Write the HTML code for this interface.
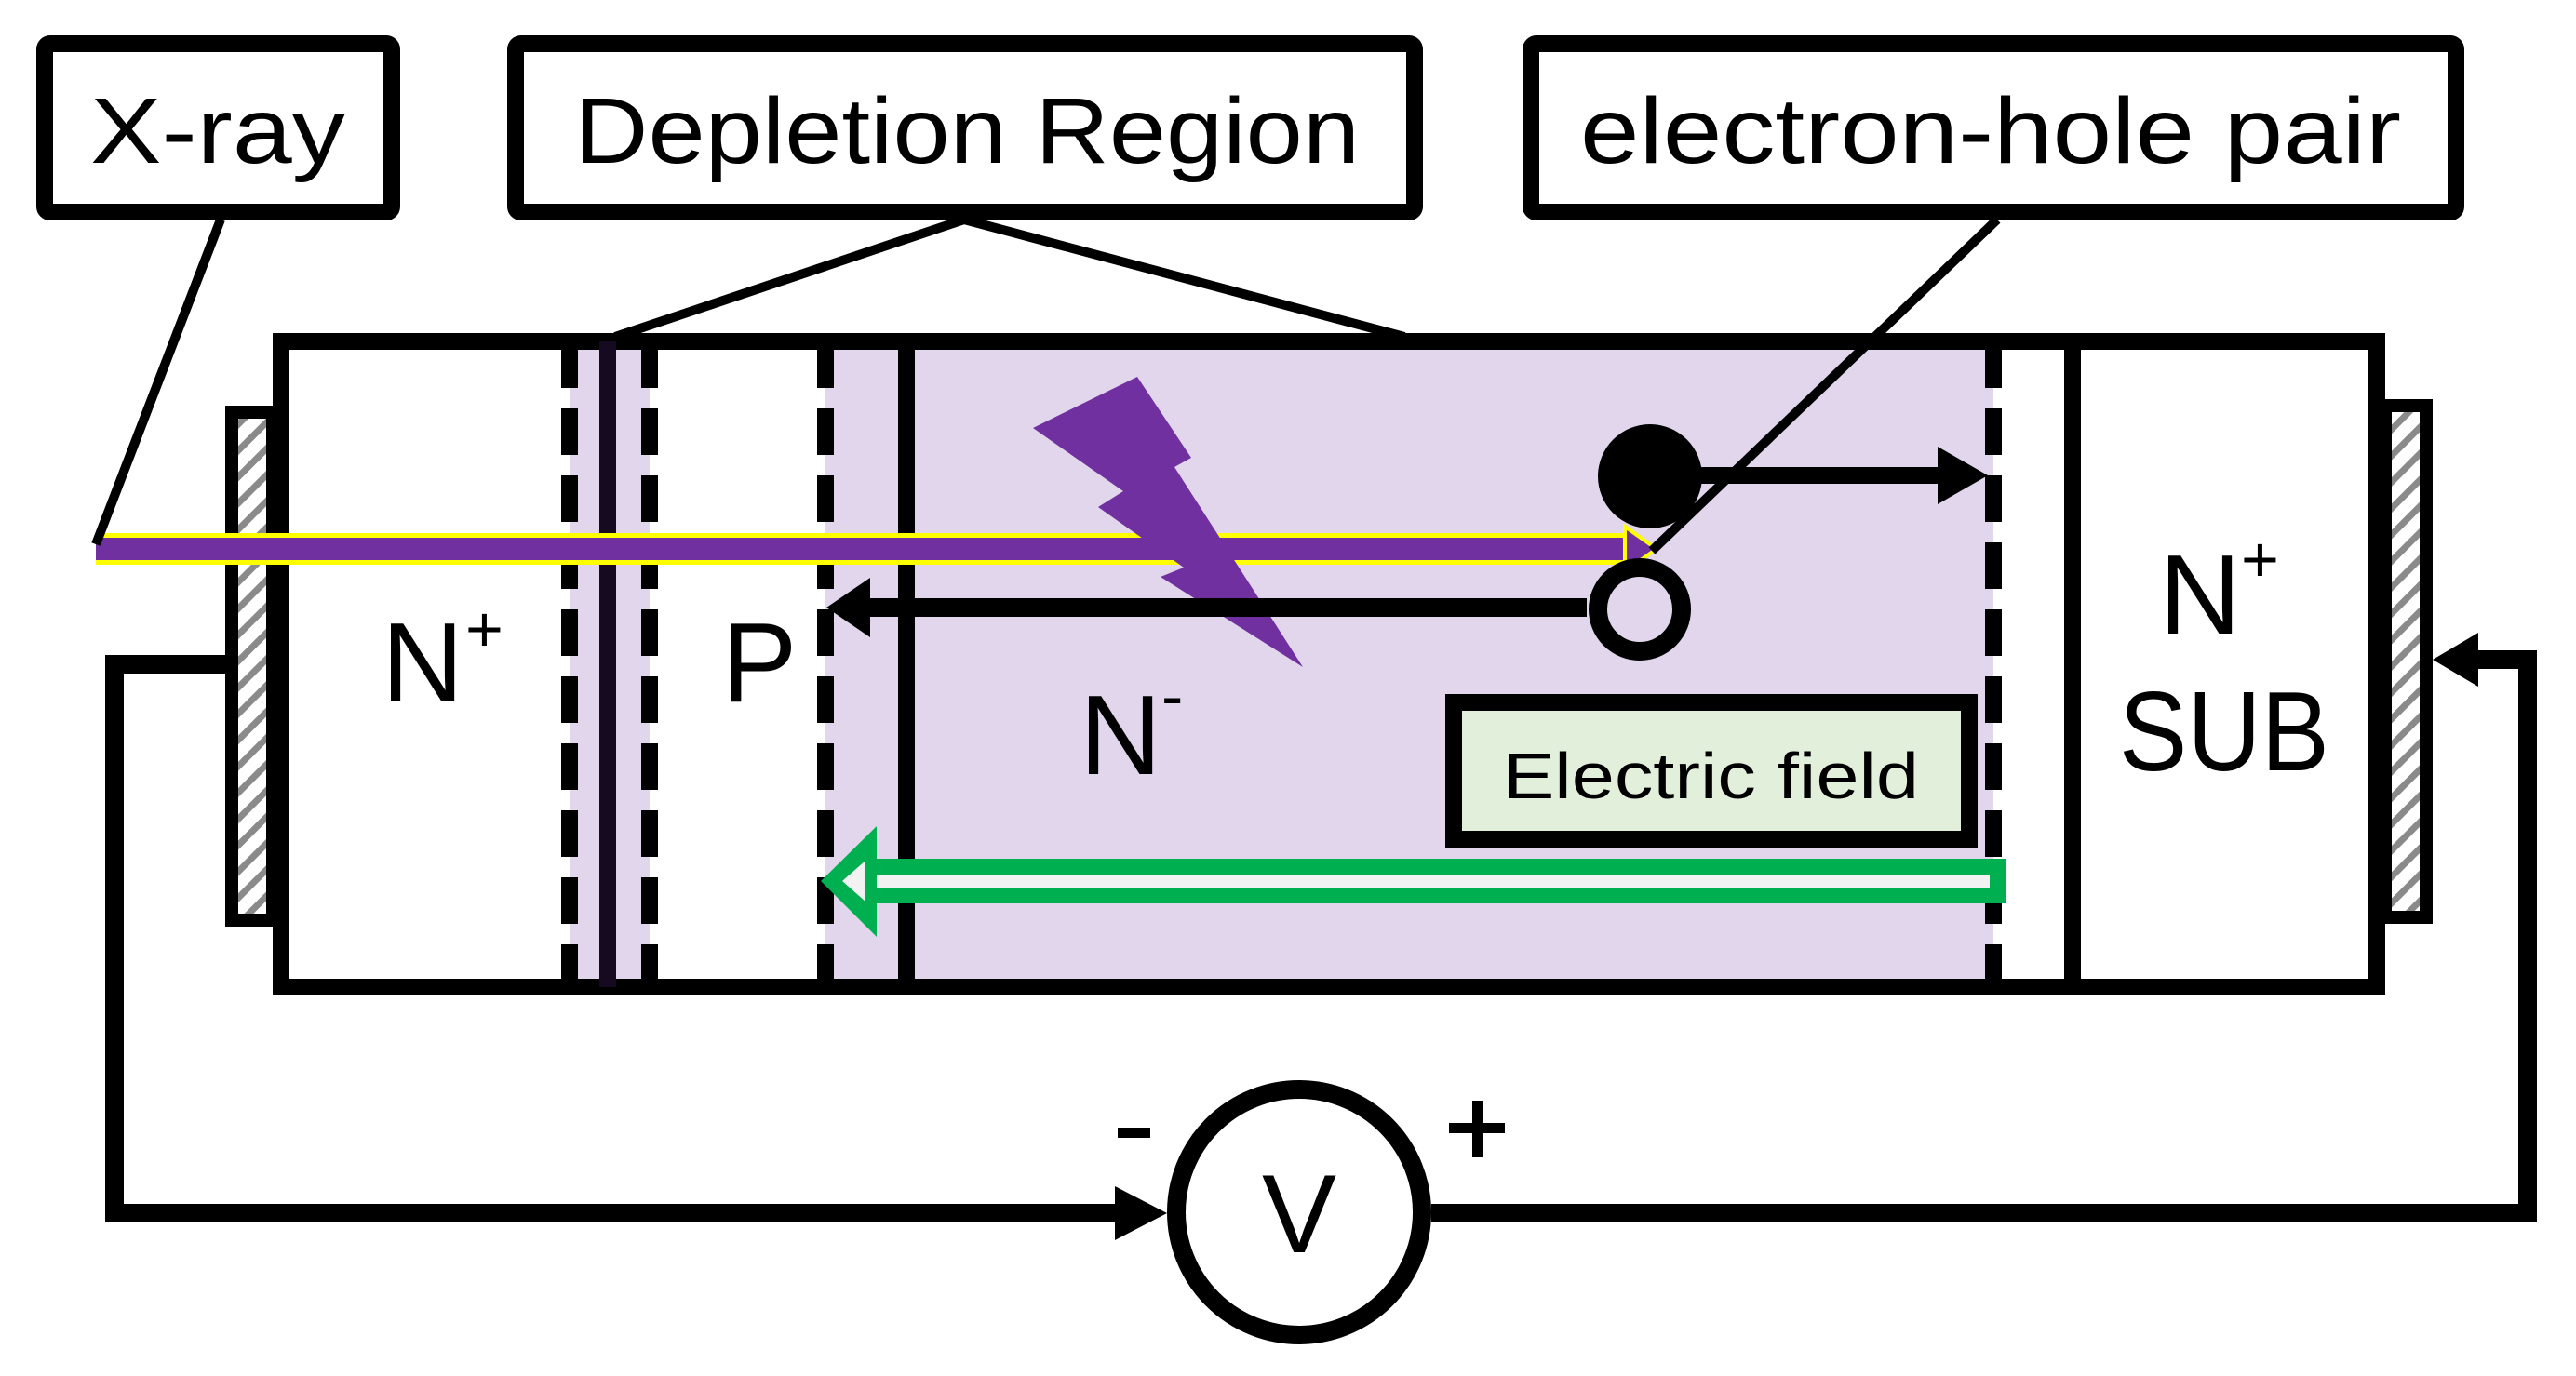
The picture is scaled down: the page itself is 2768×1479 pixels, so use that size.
<!DOCTYPE html>
<html><head><meta charset="utf-8"><style>html,body{margin:0;padding:0;background:#fff}svg{display:block}</style></head>
<body>
<svg width="2768" height="1479" viewBox="0 0 2768 1479" xmlns="http://www.w3.org/2000/svg" font-family="'Liberation Sans', 'DejaVu Sans', sans-serif">
<defs>
<pattern id="h" width="20" height="20" patternUnits="userSpaceOnUse" patternTransform="rotate(45)">
<rect width="20" height="20" fill="#fff"/><rect width="7" height="20" fill="#8a8a8a"/>
</pattern>
</defs>
<rect x="612" y="367" width="86" height="694" fill="#e1d6ec"/>
<rect x="887" y="367" width="1255" height="694" fill="#e1d6ec"/>
<rect x="302" y="367" width="2252" height="694" fill="none" stroke="#000" stroke-width="18"/>
<rect x="249" y="443" width="44" height="546" fill="url(#h)" stroke="#000" stroke-width="14"/>
<rect x="2563" y="436" width="44" height="550" fill="url(#h)" stroke="#000" stroke-width="14"/>
<g stroke="#000" stroke-width="18" stroke-dasharray="50,22" fill="none">
<line x1="612" y1="367" x2="612" y2="1061"/>
<line x1="698" y1="367" x2="698" y2="1061"/>
<line x1="887" y1="367" x2="887" y2="1061"/>
<line x1="2142" y1="367" x2="2142" y2="1061"/>
</g>
<line x1="653" y1="367" x2="653" y2="1061" stroke="#150a20" stroke-width="18"/>
<line x1="974" y1="367" x2="974" y2="1061" stroke="#000" stroke-width="18"/>
<line x1="2227" y1="367" x2="2227" y2="1061" stroke="#000" stroke-width="18"/>
<g font-size="122" fill="#000">
<text x="410" y="754">N</text><text x="500" y="700" font-size="70">+</text>
<text x="775" y="754">P</text>
<text x="1160" y="832">N</text><text x="1248" y="772" font-size="70">-</text>
<text x="2320" y="681">N</text><text x="2408" y="625" font-size="70">+</text>
<text x="2277" y="828" textLength="226" lengthAdjust="spacingAndGlyphs">SUB</text>
</g>
<rect x="103" y="573" width="1650" height="34" fill="#ffff00"/>
<rect x="103" y="578" width="1650" height="24" fill="#7030a0"/>
<polygon points="1746,566 1780,590 1746,614" fill="#7030a0" stroke="#ffff00" stroke-width="4"/>
<polygon points="1110,460 1222,405 1280,492 1262,502 1400,717 1247,620 1272,610 1180,545 1207,528" fill="#7030a0"/>
<line x1="1705" y1="653" x2="930" y2="653" stroke="#000" stroke-width="20"/>
<polygon points="888,653 935,621 935,685" fill="#000"/>
<line x1="1770" y1="511" x2="2095" y2="511" stroke="#000" stroke-width="18"/>
<polygon points="2136,511 2082,480 2082,542" fill="#000"/>
<circle cx="1773" cy="512" r="56" fill="#000"/>
<circle cx="1762" cy="655" r="45" fill="none" stroke="#000" stroke-width="20"/>
<g stroke="#000" stroke-width="10" fill="none">
<line x1="237" y1="236" x2="103" y2="585"/>
<line x1="1036" y1="236" x2="661" y2="362"/>
<line x1="1036" y1="236" x2="1509" y2="362"/>
<line x1="2146" y1="236" x2="1775" y2="592"/>
</g>
<rect x="1562" y="755" width="554" height="147" fill="#e2efda" stroke="#000" stroke-width="18"/>
<text x="1615" y="858" font-size="70" fill="#000" textLength="447" lengthAdjust="spacingAndGlyphs">Electric field</text>
<rect x="938" y="923" width="1217" height="48" fill="#00b050"/>
<rect x="938" y="940" width="1200" height="14" fill="#f2f2f2"/>
<polygon points="882,947 942,888 942,1007" fill="#00b050"/>
<polygon points="905,947 930,925 930,969" fill="#f2f2f2"/>
<g fill="#fff" stroke="#000" stroke-width="18">
<rect x="48" y="47" width="373" height="181" rx="6"/>
<rect x="554" y="47" width="966" height="181" rx="6"/>
<rect x="1645" y="47" width="994" height="181" rx="6"/>
</g>
<g font-size="100" fill="#000">
<text x="97" y="175" textLength="274" lengthAdjust="spacingAndGlyphs">X-ray</text>
<text x="617" y="175" textLength="844" lengthAdjust="spacingAndGlyphs">Depletion Region</text>
<text x="1698" y="175" textLength="882" lengthAdjust="spacingAndGlyphs">electron-hole pair</text>
</g>
<g stroke="#000" stroke-width="20" fill="none">
<polyline points="242,714 123,714 123,1304 1215,1304"/>
<polyline points="1538,1304 2716,1304 2716,709 2660,709"/>
<circle cx="1396" cy="1303" r="132"/>
</g>
<polygon points="1254,1304 1198,1275 1198,1333" fill="#000"/>
<polygon points="2614,709 2663,680 2663,738" fill="#000"/>
<text x="1396" y="1346" font-size="120" text-anchor="middle" fill="#000">V</text>
<rect x="1201" y="1212" width="35" height="11" fill="#000"/>
<rect x="1557" y="1207" width="60" height="11" fill="#000"/>
<rect x="1582" y="1183" width="11" height="61" fill="#000"/>
</svg>
</body></html>
